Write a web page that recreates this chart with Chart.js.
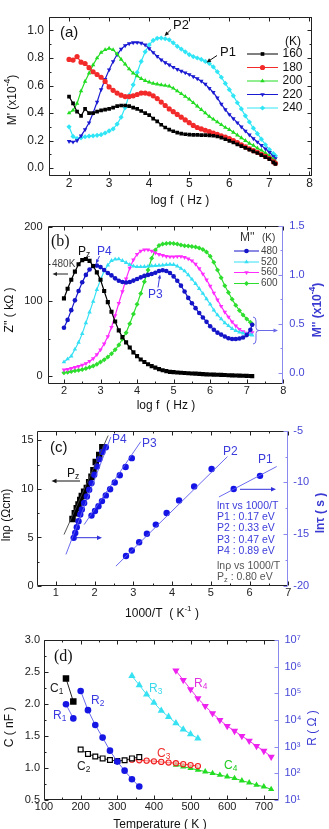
<!DOCTYPE html>
<html><head><meta charset="utf-8">
<script src="https://cdn.jsdelivr.net/npm/chart.js@4.4.1/dist/chart.umd.min.js"></script>
<style>
html,body{margin:0;padding:0;background:#fff;width:329px;height:829px;overflow:hidden;position:relative}
canvas{position:absolute;left:0}
</style></head><body>
<canvas id="ca" width="329" height="210" style="top:0px"></canvas>
<canvas id="cb" width="329" height="205" style="top:210px"></canvas>
<canvas id="cc" width="329" height="205" style="top:415px"></canvas>
<canvas id="cd" width="329" height="209" style="top:620px"></canvas>
<script>
// ===================== DATA =====================
// ---- panel (a): M' vs log f ----
const A_LOGF = [2.0,2.1,2.2,2.3,2.4,2.5,2.6,2.7,2.8,2.9,3.0,3.1,3.2,3.3,3.4,3.5,3.6,3.7,3.8,3.9,4.0,4.1,4.2,4.3,4.4,4.5,4.6,4.7,4.8,4.9,5.0,5.1,5.2,5.3,5.4,5.5,5.6,5.7,5.8,5.9,6.0,6.1,6.2,6.3,6.4,6.5,6.6,6.7,6.8,6.9,7.0,7.1,7.15];
const A_M160 = [0.52,0.47,0.41,0.38,0.43,0.40,0.40,0.41,0.42,0.425,0.43,0.44,0.45,0.455,0.455,0.45,0.44,0.43,0.415,0.40,0.385,0.36,0.34,0.315,0.295,0.28,0.268,0.258,0.25,0.246,0.243,0.242,0.241,0.24,0.24,0.238,0.235,0.23,0.222,0.21,0.198,0.186,0.172,0.16,0.147,0.135,0.122,0.11,0.095,0.08,0.065,0.042,0.03];
const A_M180 = [0.79,0.785,0.81,0.77,0.76,0.73,0.70,0.68,0.66,0.63,0.59,0.565,0.545,0.53,0.52,0.52,0.525,0.535,0.545,0.545,0.54,0.525,0.505,0.48,0.455,0.43,0.41,0.39,0.37,0.35,0.33,0.31,0.295,0.285,0.275,0.265,0.255,0.245,0.235,0.225,0.215,0.2,0.185,0.17,0.155,0.14,0.127,0.115,0.10,0.085,0.07,0.047,0.035];
const A_M200 = [0.40,0.42,0.47,0.56,0.63,0.69,0.75,0.80,0.84,0.86,0.87,0.86,0.83,0.79,0.755,0.72,0.69,0.67,0.65,0.635,0.625,0.615,0.61,0.605,0.60,0.595,0.58,0.56,0.54,0.52,0.50,0.475,0.45,0.425,0.40,0.375,0.355,0.335,0.315,0.295,0.28,0.26,0.24,0.22,0.20,0.18,0.165,0.145,0.13,0.11,0.09,0.065,0.05];
const A_M220 = [0.195,0.19,0.20,0.235,0.28,0.33,0.40,0.48,0.57,0.645,0.715,0.775,0.825,0.865,0.89,0.905,0.912,0.913,0.908,0.895,0.868,0.84,0.812,0.787,0.767,0.75,0.733,0.718,0.705,0.693,0.68,0.665,0.65,0.632,0.61,0.58,0.55,0.51,0.465,0.425,0.39,0.36,0.33,0.30,0.27,0.242,0.215,0.19,0.165,0.14,0.115,0.085,0.07];
const A_M240 = [0.30,0.23,0.215,0.22,0.228,0.232,0.235,0.238,0.243,0.255,0.27,0.285,0.32,0.37,0.44,0.53,0.605,0.695,0.775,0.845,0.895,0.928,0.943,0.945,0.94,0.932,0.91,0.885,0.865,0.845,0.825,0.81,0.80,0.79,0.775,0.76,0.735,0.70,0.66,0.615,0.57,0.525,0.475,0.43,0.38,0.335,0.29,0.25,0.21,0.17,0.135,0.105,0.09];
const A_TEMPS = ['160','180','200','220','240'];
const A_XTICKS = [2,3,4,5,6,7,8];
const A_YTICKS = [0,0.2,0.4,0.6,0.8,1.0];

// ---- panel (b): Z'' (480 K) and M'' vs log f ----
const B_LOGF = A_LOGF;
const B_Z480 = [104,117,129,140,150,155.5,157,154.5,147.5,139,129,114,99,86,73,61,52,45,38,31.5,26.5,22,18.5,15.5,13,11,9,7.5,6.3,5.3,5.0,4.5,4.1,3.8,3.5,3.2,2.9,2.6,2.3,2.0,1.8,1.6,1.4,1.2,1.0,0.8,0.6,0.4,0.2,0.1,-0.1,-0.3,-0.4];
const B_M480 = [0.46,0.54,0.64,0.74,0.835,0.925,1.0,1.055,1.09,1.095,1.08,1.05,1.02,0.995,0.965,0.94,0.928,0.923,0.928,0.942,0.958,0.975,0.99,1.0,1.01,1.022,1.04,1.048,1.04,1.02,0.985,0.94,0.89,0.83,0.765,0.71,0.66,0.61,0.565,0.52,0.475,0.44,0.41,0.39,0.37,0.352,0.345,0.345,0.35,0.36,0.385,0.44,0.49];
const B_M520 = [0.11,0.14,0.17,0.24,0.31,0.40,0.51,0.62,0.73,0.85,0.95,1.04,1.10,1.145,1.16,1.162,1.145,1.125,1.105,1.09,1.083,1.083,1.084,1.088,1.092,1.095,1.097,1.1,1.105,1.108,1.105,1.09,1.065,1.04,1.0,0.955,0.91,0.86,0.81,0.755,0.70,0.64,0.59,0.55,0.51,0.48,0.45,0.43,0.415,0.405,0.395,0.39,0.385];
const B_M560 = [0.03,0.035,0.045,0.055,0.065,0.078,0.095,0.118,0.145,0.185,0.235,0.295,0.37,0.465,0.585,0.71,0.83,0.96,1.07,1.155,1.21,1.245,1.257,1.257,1.245,1.225,1.21,1.2,1.19,1.186,1.186,1.188,1.188,1.18,1.165,1.145,1.11,1.065,1.01,0.95,0.885,0.815,0.745,0.68,0.62,0.57,0.52,0.48,0.445,0.42,0.405,0.40,0.41];
const B_M600 = [0.0,0.005,0.012,0.02,0.026,0.033,0.043,0.055,0.07,0.088,0.11,0.133,0.162,0.195,0.235,0.283,0.345,0.41,0.5,0.6,0.7,0.81,0.93,1.05,1.17,1.255,1.3,1.315,1.322,1.323,1.322,1.315,1.305,1.298,1.295,1.29,1.286,1.275,1.26,1.235,1.19,1.13,1.05,0.97,0.89,0.82,0.75,0.69,0.635,0.59,0.55,0.515,0.495];
const B_TEMPS = ['480','520','560','600'];
const B_XTICKS = [2,3,4,5,6,7,8];
const B_YTICKS = [0,100,200];
const B_Y2TICKS = [0,0.5,1.0,1.5];

// ---- panel (c): Arrhenius plots ----
const C_PZ_X = [1.43,1.49,1.54,1.585,1.63,1.67,1.73,1.80,1.86,1.92,1.97,2.03,2.12,2.2];
const C_PZ_LNRHO = [6.9,7.5,8.0,8.4,8.87,9.27,9.71,10.1,10.7,11.25,11.93,12.78,13.5,14.3];
const C_P4_X = [1.46,1.50,1.54,1.585,1.63,1.67,1.73,1.80,1.86,1.92,1.99,2.06,2.12,2.2,2.29];
const C_P4_LNTAU = [-15.35,-14.87,-14.33,-13.75,-13.1,-12.6,-11.98,-11.35,-10.7,-10.06,-9.26,-8.46,-7.75,-7.05,-6.6];
const C_P3_X = [1.92,2.01,2.10,2.19,2.29,2.40,2.52,2.65,2.80,2.96];
const C_P3_LNTAU = [-13.2,-12.75,-12.3,-11.8,-11.25,-10.65,-10.0,-9.3,-8.5,-7.65];
const C_P2_X = [2.81,2.96,3.15,3.35,3.58,3.86,4.18,4.57,5.02];
const C_P2_LNTAU = [-17.1,-16.57,-15.77,-14.96,-14.07,-12.95,-11.73,-10.38,-8.7];
const C_P1_X = [5.59,6.27];
const C_P1_LNTAU = [-10.63,-9.36];
// fitted straight lines (end points)
const C_FIT_PZ_X = [1.21,2.35], C_FIT_PZ_Y = [5.3,15.5];
const C_FIT_P4_X = [1.26,2.42], C_FIT_P4_Y = [-16.95,-5.6];
const C_FIT_P3_X = [1.73,3.19], C_FIT_P3_Y = [-14.07,-6.06];
const C_FIT_P2_X = [2.55,5.43], C_FIT_P2_Y = [-18.08,-7.5];
const C_FIT_P1_X = [5.21,6.7],  C_FIT_P1_Y = [-11.4,-8.46];
const C_XTICKS = [1,2,3,4,5,6,7];
const C_YTICKS = [0,5,10,15];
const C_Y2TICKS = [-20,-15,-10,-5];
const C_ENERGIES = ['P1 : 0.17 eV','P2 : 0.33 eV','P3 : 0.47 eV','P4 : 0.89 eV'];

// ---- panel (d): C and R vs temperature ----
const D_C1_T = [160,180], D_C1 = [2.40,2.04];
const D_R1_T = [160,180], D_R1 = [38900,11500];
const D_R2_T = [200,220,240,260,280,300,320,340,360];
const D_R2 = [123000,23400,6460,2190,708,275,126,60,32];
const D_C2_T = [200,220,240,260,280,300,320,340,360];
const D_C2 = [1.29,1.22,1.18,1.15,1.125,1.11,1.12,1.15,1.17];
const D_C3_T = [340,360,380,400,420,440,460,480,500,520];
const D_C3 = [1.13,1.12,1.115,1.105,1.095,1.085,1.075,1.06,1.045,1.03];
const D_C4_T = [460,480,500,520,540,560,580,600,620,640,660,680,700,720];
const D_C4 = [1.047,1.02,0.995,0.969,0.943,0.917,0.89,0.865,0.839,0.802,0.771,0.734,0.708,0.667];
const D_R3_T = [340,360,380,400,420,440,460,480,500,520];
const D_R3 = [447000,204000,91200,44700,22400,13200,7590,4470,2950,2040];
const D_R4_T = [460,480,500,520,540,560,580,600,620,640,660,680,700,720];
const D_R4 = [708000,316000,141000,64600,33100,17800,10000,5890,3890,2510,1660,1050,692,417];
const D_XTICKS = [100,200,300,400,500,600,700];
const D_YTICKS = [0.5,1.0,1.5,2.0,2.5,3.0];
const D_Y2TICKS = [10,100,1000,10000,100000,1000000,10000000];
const D_Y2LABELS = ['10¹','10²','10³','10⁴','10⁵','10⁶','10⁷'];

// ===================== HELPERS =====================
const FAM = "'Liberation Sans', Arial, Helvetica, sans-serif";
const SERIF = "'Liberation Serif', 'Times New Roman', serif";
const AXC = '#222', BLUEAX = '#8a8aee', BLUETX = '#4646d8';
Chart.defaults.font.family = FAM;

function ser(xs, ys, o) {
  return Object.assign({
    data: xs.map((x, i) => ({x: x, y: ys[i]})),
    showLine: true, borderWidth: 1.2, pointRadius: 2, pointBorderWidth: 0,
    pointHoverRadius: 0, tension: 0, fill: false
  }, o);
}
function half(a, b, step) { const r = []; for (let v = a; v <= b + 1e-9; v += step) r.push(+v.toFixed(4)); return r; }

function xAxis(min, max, ticks, h, size, pad, fmt) {
  return { type: 'linear', position: 'bottom', min: min, max: max,
    afterFit: s => { s.height = h; },
    afterBuildTicks: s => { s.ticks = ticks.map(v => ({value: v})); },
    ticks: { font: {family: FAM, size: size}, color: AXC, padding: pad, maxRotation: 0, autoSkip: false, callback: fmt || (v => String(v)) },
    grid: { display: false, drawTicks: false }, border: { display: false } };
}
function yAxis(pos, type, min, max, ticks, w, size, pad, color, fmt) {
  return { type: type, position: pos, min: min, max: max,
    afterFit: s => { s.width = w; },
    afterBuildTicks: s => { s.ticks = ticks.map(v => ({value: v})); },
    ticks: { font: {family: FAM, size: size}, color: color, padding: pad, autoSkip: false, callback: fmt },
    grid: { display: false, drawTicks: false }, border: { display: false } };
}

const framePlugin = {
  id: 'frame',
  afterDatasetsDraw(chart, args, o) {
    const ctx = chart.ctx, a = chart.chartArea;
    const L = Math.round(a.left) + 0.5, R = Math.round(a.right) - 0.5, T = Math.round(a.top) + 0.5, B = Math.round(a.bottom) - 0.5;
    ctx.save(); ctx.lineWidth = 1;
    ctx.strokeStyle = o.color;
    ctx.beginPath(); ctx.moveTo(R, T); ctx.lineTo(L, T); ctx.lineTo(L, B); ctx.lineTo(R, B); ctx.stroke();
    ctx.strokeStyle = o.rightColor || o.color;
    ctx.beginPath(); ctx.moveTo(R, T - 0.5); ctx.lineTo(R, B + 0.5); ctx.stroke();
    (o.ticks || []).forEach(t => {
      const s = chart.scales[t.scale];
      ctx.strokeStyle = t.color || o.color;
      ctx.beginPath();
      const draw = (vals, len) => vals.forEach(v => {
        const p = Math.round(s.getPixelForValue(v)) + 0.5;
        t.sides.forEach(side => {
          if (side === 'bottom') { ctx.moveTo(p, B); ctx.lineTo(p, B - len); }
          if (side === 'top') { ctx.moveTo(p, T); ctx.lineTo(p, T + len); }
          if (side === 'left') { ctx.moveTo(L, p); ctx.lineTo(L + len, p); }
          if (side === 'right') { ctx.moveTo(R, p); ctx.lineTo(R - len, p); }
        });
      });
      draw(t.major, 4); draw(t.minor || [], 2);
      ctx.stroke();
    });
    ctx.restore();
  }
};

function drawArrow(ctx, x1, y1, x2, y2, color, w, h) {
  ctx.strokeStyle = color; ctx.fillStyle = color; ctx.lineWidth = w || 1;
  const ang = Math.atan2(y2 - y1, x2 - x1); h = h || 5;
  ctx.beginPath(); ctx.moveTo(x1, y1); ctx.lineTo(x2 - Math.cos(ang) * h * 0.8, y2 - Math.sin(ang) * h * 0.8); ctx.stroke();
  ctx.beginPath();
  ctx.moveTo(x2, y2);
  ctx.lineTo(x2 - h * Math.cos(ang) + h * 0.45 * Math.sin(ang), y2 - h * Math.sin(ang) - h * 0.45 * Math.cos(ang));
  ctx.lineTo(x2 - h * Math.cos(ang) - h * 0.45 * Math.sin(ang), y2 - h * Math.sin(ang) + h * 0.45 * Math.cos(ang));
  ctx.closePath(); ctx.fill();
}

const notesPlugin = {
  id: 'notes',
  afterDraw(chart, args, o) {
    const ctx = chart.ctx;
    (o.items || []).forEach(it => {
      ctx.save();
      if (it.type === 'text') {
        ctx.fillStyle = it.color || '#111';
        ctx.textBaseline = 'middle';
        const parts = it.parts || [[it.text, it.size || 12, 0]];
        const fam = it.fam || FAM, wt = it.weight || 'normal';
        let w = 0;
        parts.forEach(p => { ctx.font = wt + ' ' + p[1] + 'px ' + fam; w += ctx.measureText(p[0]).width; });
        ctx.translate(it.x, it.y);
        if (it.rot) ctx.rotate(it.rot * Math.PI / 180);
        let cx = it.align === 'center' ? -w / 2 : (it.align === 'right' ? -w : 0);
        parts.forEach(p => { ctx.font = wt + ' ' + p[1] + 'px ' + fam; ctx.fillText(p[0], cx, p[2] || 0); cx += ctx.measureText(p[0]).width; });
      } else if (it.type === 'arrow') {
        drawArrow(ctx, it.x1, it.y1, it.x2, it.y2, it.color || '#111', it.w, it.h);
      } else if (it.type === 'brace') {
        const x = it.x, y1 = it.y1, y2 = it.y2, ym = (y1 + y2) / 2;
        ctx.strokeStyle = it.color; ctx.lineWidth = 1;
        ctx.beginPath();
        ctx.moveTo(x, y1); ctx.quadraticCurveTo(x + 3, y1, x + 3, y1 + 4);
        ctx.lineTo(x + 3, ym - 3); ctx.quadraticCurveTo(x + 3, ym, x + 6, ym);
        ctx.quadraticCurveTo(x + 3, ym, x + 3, ym + 3);
        ctx.lineTo(x + 3, y2 - 4); ctx.quadraticCurveTo(x + 3, y2, x, y2);
        ctx.stroke();
      } else if (it.type === 'legend') {
        const ds = chart.data.datasets[it.ds];
        ctx.strokeStyle = ds.borderColor; ctx.lineWidth = 1;
        ctx.beginPath(); ctx.moveTo(it.x1, it.y); ctx.lineTo(it.x2, it.y); ctx.stroke();
        ctx.fillStyle = ds.pointBackgroundColor; ctx.strokeStyle = ds.pointBorderColor || ds.borderColor;
        Chart.helpers.drawPoint(ctx, { pointStyle: ds.pointStyle, rotation: ds.pointRotation || 0, radius: (ds.pointRadius || 2), borderWidth: ds.pointBorderWidth || 0 }, (it.x1 + it.x2) / 2, it.y);
        ctx.fillStyle = it.textColor || '#111'; ctx.textBaseline = 'middle';
        ctx.font = (it.size || 12) + 'px ' + FAM;
        ctx.fillText(it.text, it.tx, it.y);
      }
      ctx.restore();
    });
  }
};

function baseOpts(pad) {
  return { responsive: false, animation: false, devicePixelRatio: 1, events: [],
    layout: { padding: pad },
    plugins: { legend: { display: false }, tooltip: { enabled: false } } };
}
const sub = (main, s, size) => [[main, size || 12, 0], [s, (size || 12) * 0.7, 3]];

// ===================== PANEL (a) =====================
(function () {
  const cols = ['#000000', '#f22a2a', '#22dc22', '#1a1ad2', '#30e6f6'];
  const styles = [['rect', 0], ['circle', 0], ['triangle', 0], ['triangle', 180], ['rectRot', 0]];
  const ys = [A_M160, A_M180, A_M200, A_M220, A_M240];
  const datasets = ys.map((y, i) => ser(A_LOGF, y, {
    borderColor: cols[i], pointBackgroundColor: cols[i], pointStyle: styles[i][0], pointRotation: styles[i][1], pointRadius: 2.6
  }));
  const opts = baseOpts({ left: 0, right: 329 - 311.5, top: 16.7, bottom: 0 });
  opts.scales = {
    x: xAxis(1.5, 8.05, A_XTICKS, 210 - 175.7, 12, 1),
    y: yAxis('left', 'linear', -0.055, 1.1, A_YTICKS, 49, 12, 5, AXC, v => v.toFixed(1))
  };
  const legY = [54, 67.5, 81, 94.5, 108];
  const items = [
    { type: 'text', text: '(a)', size: 15, x: 60, y: 33 },
    { type: 'text', text: 'P2', size: 13, x: 173, y: 25 },
    { type: 'arrow', x1: 171, y1: 29.5, x2: 164.5, y2: 36, h: 4.5 },
    { type: 'text', text: 'P1', size: 13, x: 220, y: 52 },
    { type: 'arrow', x1: 217, y1: 55.5, x2: 206.5, y2: 62.5, h: 4.5 },
    { type: 'text', text: '(K)', size: 12, x: 285, y: 41.5 },
    { type: 'text', text: 'log f  ( Hz )', size: 12, x: 180, y: 201, align: 'center' },
    { type: 'text', parts: [["M' (x10", 12, 0], ['-4', 8.5, -5], [')', 12, 0]], x: 13, y: 100, align: 'center', rot: -90 }
  ];
  A_TEMPS.forEach((t, i) => items.push({ type: 'legend', ds: i, x1: 247, x2: 278, y: legY[i], tx: 282.5, text: t, size: 12 }));
  opts.plugins.frame = { color: '#222', ticks: [
    { scale: 'x', sides: ['bottom', 'top'], major: A_XTICKS, minor: half(1.5, 7.5, 1) },
    { scale: 'y', sides: ['left', 'right'], major: A_YTICKS, minor: half(0.1, 0.9, 0.2) }
  ] };
  opts.plugins.notes = { items: items };
  new Chart(document.getElementById('ca'), { type: 'scatter', data: { datasets: datasets }, options: opts, plugins: [framePlugin, notesPlugin] });
})();

// ===================== PANEL (b) =====================
(function () {
  const datasets = [
    ser(B_LOGF, B_Z480, { yAxisID: 'y', borderColor: '#000', pointBackgroundColor: '#000', pointStyle: 'rect', pointRadius: 2.9 }),
    ser(B_LOGF, B_M480, { yAxisID: 'y2', borderColor: '#1414c8', pointBackgroundColor: '#1414c8', pointStyle: 'circle', pointRadius: 2.3 }),
    ser(B_LOGF, B_M520, { yAxisID: 'y2', borderColor: '#35e0f4', pointBackgroundColor: '#35e0f4', pointStyle: 'triangle', pointRadius: 2.6 }),
    ser(B_LOGF, B_M560, { yAxisID: 'y2', borderColor: '#ff2cff', pointBackgroundColor: '#ff2cff', pointStyle: 'triangle', pointRotation: 180, pointRadius: 2.6 }),
    ser(B_LOGF, B_M600, { yAxisID: 'y2', borderColor: '#2ede2e', pointBackgroundColor: '#2ede2e', pointStyle: 'rectRot', pointRadius: 2.5 })
  ];
  const opts = baseOpts({ left: 0, right: 0, top: 15.5, bottom: 0 });
  opts.scales = {
    x: xAxis(1.55, 8.0, B_XTICKS, 205 - 174, 11, 0),
    y: yAxis('left', 'linear', -11, 202, B_YTICKS, 47.5, 11, 5, AXC, v => String(v)),
    y2: yAxis('right', 'linear', -0.115, 1.505, B_Y2TICKS, 329 - 283.3, 11, 6, BLUETX, v => v.toFixed(1))
  };
  const legY = [41, 52, 62.5, 73.5];
  const items = [
    { type: 'text', text: '(b)', size: 16, fam: SERIF, x: 51, y: 32 },
    { type: 'text', parts: sub('P', 'z', 12), x: 78, y: 41.5 },
    { type: 'text', text: 'P4', size: 12, x: 97, y: 41.5, color: '#3838e0' },
    { type: 'arrow', x1: 99.5, y1: 46, x2: 96, y2: 53.5, color: '#3838e0', h: 4 },
    { type: 'text', text: '480K', size: 10, x: 52, y: 54, color: '#444' },
    { type: 'arrow', x1: 68, y1: 64, x2: 52.5, y2: 64, color: '#222', h: 4.5 },
    { type: 'text', text: 'P3', size: 12, x: 148, y: 84.5, color: '#3838e0' },
    { type: 'arrow', x1: 158, y1: 77.5, x2: 160, y2: 64.5, color: '#3838e0', h: 4 },
    { type: 'brace', x: 253, y1: 107, y2: 134, color: '#6a6ae8' },
    { type: 'arrow', x1: 259, y1: 120.5, x2: 278, y2: 120.5, color: '#6a6ae8', h: 4.5 },
    { type: 'text', text: "M''", size: 12, x: 240, y: 28, color: '#333' },
    { type: 'text', text: '(K)', size: 10, x: 262, y: 28.5, color: '#333' },
    { type: 'text', text: 'log f  ( Hz )', size: 12, x: 166, y: 196, align: 'center' },
    { type: 'text', text: "Z'' ( kΩ )", size: 12, x: 10, y: 100, align: 'center', rot: -90 },
    { type: 'text', parts: [["M'' (x10", 12, 0], ['-4', 8.5, -5], [')', 12, 0]], x: 318, y: 100, align: 'center', rot: -90, color: '#3a3ad2', weight: 'bold' }
  ];
  B_TEMPS.forEach((t, i) => items.push({ type: 'legend', ds: i + 1, x1: 234, x2: 259, y: legY[i], tx: 261, text: t, size: 10, textColor: '#444' }));
  opts.plugins.frame = { color: '#222', rightColor: BLUEAX, ticks: [
    { scale: 'x', sides: ['bottom', 'top'], major: B_XTICKS, minor: half(2.5, 7.5, 1) },
    { scale: 'y', sides: ['left'], major: B_YTICKS, minor: [50, 150] },
    { scale: 'y2', sides: ['right'], major: B_Y2TICKS, minor: [0.25, 0.75, 1.25], color: BLUEAX }
  ] };
  opts.plugins.notes = { items: items };
  new Chart(document.getElementById('cb'), { type: 'scatter', data: { datasets: datasets }, options: opts, plugins: [framePlugin, notesPlugin] });
})();

// ===================== PANEL (c) =====================
(function () {
  const fitBlue = { yAxisID: 'y2', borderColor: '#5a5aee', borderWidth: 0.9, pointRadius: 0 };
  const dotBlue = { yAxisID: 'y2', showLine: false, pointBackgroundColor: '#1414e6', pointStyle: 'circle', pointRadius: 3.2 };
  const datasets = [
    ser(C_FIT_PZ_X, C_FIT_PZ_Y, { yAxisID: 'y', borderColor: '#444', borderWidth: 0.9, pointRadius: 0 }),
    ser(C_FIT_P4_X, C_FIT_P4_Y, fitBlue),
    ser(C_FIT_P3_X, C_FIT_P3_Y, fitBlue),
    ser(C_FIT_P2_X, C_FIT_P2_Y, fitBlue),
    ser(C_FIT_P1_X, C_FIT_P1_Y, fitBlue),
    ser(C_P4_X, C_P4_LNTAU, dotBlue),
    ser(C_PZ_X, C_PZ_LNRHO, { yAxisID: 'y', showLine: false, pointBackgroundColor: '#000', pointStyle: 'rect', pointRadius: 4.6 }),
    ser(C_P3_X, C_P3_LNTAU, dotBlue),
    ser(C_P2_X, C_P2_LNTAU, dotBlue),
    ser(C_P1_X, C_P1_LNTAU, dotBlue)
  ];
  const opts = baseOpts({ left: 0, right: 0, top: 15.7, bottom: 0 });
  opts.scales = {
    x: xAxis(0.5, 7, C_XTICKS, 205 - 171, 11, 0),
    y: yAxis('left', 'linear', 0, 16, C_YTICKS, 36.5, 11, 3, AXC, v => String(v)),
    y2: yAxis('right', 'linear', -20, -5, C_Y2TICKS, 329 - 288.3, 11, 5, BLUETX, v => String(v))
  };
  const BL = '#3c3cdc', GR = '#555';
  const items = [
    { type: 'text', text: '(c)', size: 15, x: 50, y: 33 },
    { type: 'text', parts: sub('P', 'z', 12), x: 67, y: 59 },
    { type: 'arrow', x1: 80, y1: 66, x2: 51.5, y2: 66, color: '#111', h: 5 },
    { type: 'arrow', x1: 75, y1: 122.7, x2: 102, y2: 122.7, color: '#3030dc', h: 5 },
    { type: 'text', text: 'P4', size: 12, x: 112, y: 25, color: BL },
    { type: 'text', text: 'P3', size: 12, x: 142, y: 28.5, color: BL },
    { type: 'text', text: 'P2', size: 12, x: 223, y: 36.5, color: BL },
    { type: 'text', text: 'P1', size: 12, x: 258, y: 45, color: BL },
    { type: 'arrow', x1: 240, y1: 74.3, x2: 276, y2: 74.3, color: '#3030dc', h: 5 },
    { type: 'text', text: 'lnτ vs 1000/T', size: 10.5, x: 217, y: 91.5, color: BL },
    { type: 'text', text: C_ENERGIES[0], size: 10.5, x: 217, y: 102.5, color: BL },
    { type: 'text', text: C_ENERGIES[1], size: 10.5, x: 217, y: 113.5, color: BL },
    { type: 'text', text: C_ENERGIES[2], size: 10.5, x: 217, y: 125, color: BL },
    { type: 'text', text: C_ENERGIES[3], size: 10.5, x: 217, y: 136.5, color: BL },
    { type: 'text', text: 'lnρ vs 1000/T', size: 10.5, x: 217, y: 151, color: GR },
    { type: 'text', parts: [['P', 10.5, 0], ['z', 7.5, 2.5], [' : 0.80 eV', 10.5, 0]], x: 217, y: 162, color: GR },
    { type: 'text', parts: [['1000/T  ( K', 12, 0], ['-1', 8, -5], [' )', 12, 0]], x: 162, y: 199, align: 'center' },
    { type: 'text', text: 'lnρ (Ωcm)', size: 12, x: 7, y: 100, align: 'center', rot: -90 },
    { type: 'text', text: 'lnτ ( s )', size: 12, x: 321, y: 98, align: 'center', rot: -90, color: '#3a3ad2', weight: 'bold' }
  ];
  opts.plugins.frame = { color: '#222', rightColor: BLUEAX, ticks: [
    { scale: 'x', sides: ['bottom', 'top'], major: C_XTICKS, minor: half(1.5, 6.5, 1) },
    { scale: 'y', sides: ['left'], major: C_YTICKS, minor: [2.5, 7.5, 12.5] },
    { scale: 'y2', sides: ['right'], major: C_Y2TICKS, minor: [-17.5, -12.5, -7.5], color: BLUEAX }
  ] };
  opts.plugins.notes = { items: items };
  new Chart(document.getElementById('cc'), { type: 'scatter', data: { datasets: datasets }, options: opts, plugins: [framePlugin, notesPlugin] });
})();

// ===================== PANEL (d) =====================
(function () {
  const datasets = [
    ser(D_C1_T, D_C1, { yAxisID: 'y', borderColor: '#222', borderWidth: 1, pointBackgroundColor: '#000', pointStyle: 'rect', pointRadius: 4.6 }),
    ser(D_R1_T, D_R1, { yAxisID: 'y2', borderColor: '#6a6aee', borderWidth: 1, pointBackgroundColor: '#1616e4', pointStyle: 'circle', pointRadius: 3.3 }),
    ser(D_R2_T, D_R2, { yAxisID: 'y2', borderColor: '#6a6aee', borderWidth: 1, pointBackgroundColor: '#1616e4', pointStyle: 'circle', pointRadius: 3.3 }),
    ser(D_C2_T, D_C2, { yAxisID: 'y', borderColor: '#222', borderWidth: 1, pointBackgroundColor: '#fff', pointBorderColor: '#000', pointBorderWidth: 1.2, pointStyle: 'rect', pointRadius: 3.4 }),
    ser(D_C3_T, D_C3, { yAxisID: 'y', borderColor: '#f03030', borderWidth: 1, pointBackgroundColor: 'rgba(255,200,200,0.6)', pointBorderColor: '#f02020', pointBorderWidth: 1.1, pointStyle: 'circle', pointRadius: 2.6 }),
    ser(D_C4_T, D_C4, { yAxisID: 'y', borderColor: '#22d822', borderWidth: 1, pointBackgroundColor: '#22dd22', pointStyle: 'triangle', pointRadius: 3.6 }),
    ser(D_R3_T, D_R3, { yAxisID: 'y2', borderColor: '#3ee0f0', borderWidth: 1, pointBackgroundColor: '#36e2f2', pointStyle: 'triangle', pointRadius: 4.2 }),
    ser(D_R4_T, D_R4, { yAxisID: 'y2', borderColor: '#ee30ee', borderWidth: 1, pointBackgroundColor: '#ee22ee', pointStyle: 'triangle', pointRotation: 180, pointRadius: 4.2 })
  ];
  const opts = baseOpts({ left: 0, right: 0, top: 20, bottom: 0 });
  opts.scales = {
    x: xAxis(100, 740, D_XTICKS, 209 - 180, 11, 0),
    y: yAxis('left', 'linear', 0.5, 3.0, D_YTICKS, 44, 11, 4, AXC, v => v.toFixed(1)),
    y2: yAxis('right', 'logarithmic', 10, 1e7, D_Y2TICKS, 329 - 278.5, 11, 6, BLUETX, v => D_Y2LABELS[D_Y2TICKS.indexOf(v)] || '')
  };
  const items = [
    { type: 'text', text: '(d)', size: 16, fam: SERIF, x: 54, y: 36.5 },
    { type: 'text', parts: sub('C', '1', 12), x: 50, y: 69, color: '#222' },
    { type: 'text', parts: sub('R', '1', 12), x: 53, y: 96, color: '#3a3ae0' },
    { type: 'text', parts: sub('R', '2', 12), x: 91, y: 80.5, color: '#3a3ae0' },
    { type: 'text', parts: sub('C', '2', 12), x: 77, y: 147, color: '#222' },
    { type: 'text', parts: sub('R', '3', 12), x: 149, y: 68.5, color: '#3ad8ea' },
    { type: 'text', parts: sub('R', '4', 12), x: 194, y: 64, color: '#e030e0' },
    { type: 'text', parts: sub('C', '3', 12), x: 157, y: 133.5, color: '#f03030' },
    { type: 'text', parts: sub('C', '4', 12), x: 224, y: 145.5, color: '#22cc22' },
    { type: 'text', text: 'Temperature ( K )', size: 12, x: 160, y: 204.5, align: 'center' },
    { type: 'text', text: 'C ( nF )', size: 12, x: 10, y: 107, align: 'center', rot: -90 },
    { type: 'text', text: 'R ( Ω )', size: 12, x: 313, y: 108, align: 'center', rot: -90, color: '#3a3ad2' }
  ];
  opts.plugins.frame = { color: '#222', rightColor: BLUEAX, ticks: [
    { scale: 'x', sides: ['bottom', 'top'], major: D_XTICKS, minor: half(150, 650, 100) },
    { scale: 'y', sides: ['left'], major: D_YTICKS, minor: half(0.75, 2.75, 0.5) },
    { scale: 'y2', sides: ['right'], major: D_Y2TICKS, color: BLUEAX }
  ] };
  opts.plugins.notes = { items: items };
  new Chart(document.getElementById('cd'), { type: 'scatter', data: { datasets: datasets }, options: opts, plugins: [framePlugin, notesPlugin] });
})();
</script>
</body></html>
